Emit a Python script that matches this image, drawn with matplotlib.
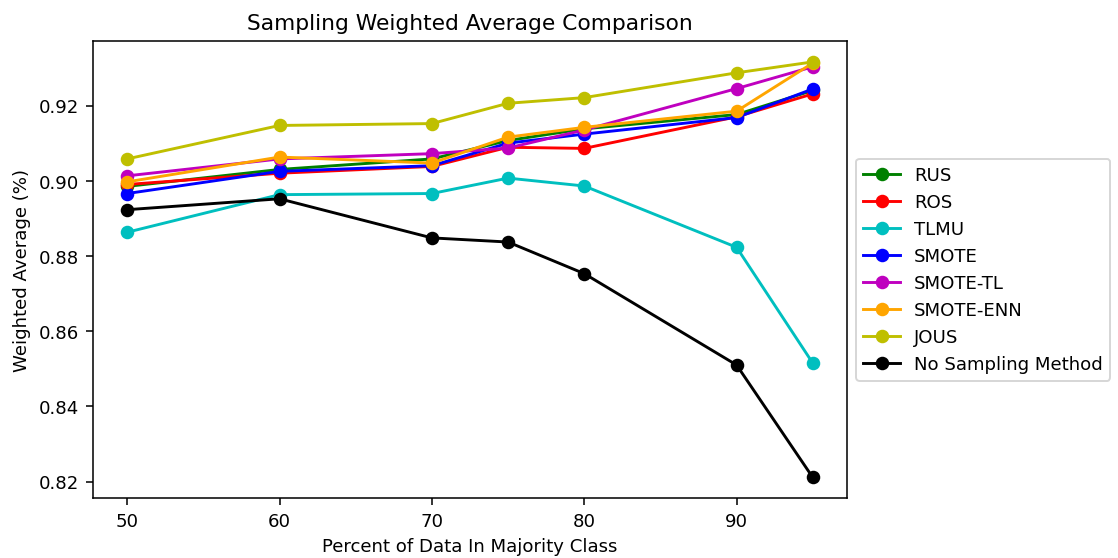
import matplotlib
matplotlib.use('Agg')
import matplotlib.pyplot as plt

# Percent of data in majority class
x = [50, 60, 70, 75, 80, 90, 95]

# Weighted average per sampling method
rus = [0.8985, 0.9030, 0.9058, 0.9107, 0.9138, 0.9176, 0.9240]
ros = [0.8990, 0.9020, 0.9038, 0.9089, 0.9086, 0.9170, 0.9231]
tlmu = [0.8863, 0.8963, 0.8966, 0.9007, 0.8986, 0.8823, 0.8515]
smote = [0.8966, 0.9025, 0.9040, 0.9100, 0.9124, 0.9168, 0.9244]
smote_tl = [0.9013, 0.9058, 0.9072, 0.9087, 0.9135, 0.9245, 0.9303]
smote_enn = [0.8997, 0.9063, 0.9047, 0.9116, 0.9142, 0.9185, 0.9313]
jous = [0.9058, 0.9147, 0.9152, 0.9206, 0.9221, 0.9287, 0.9316]
no_sampling = [0.8923, 0.8952, 0.8848, 0.8837, 0.8753, 0.8510, 0.8211]

plt.rcParams['font.size'] = 9.4

fig = plt.figure(figsize=(8.05, 4.02), dpi=139)
ax = fig.add_axes([0.083, 0.107, 0.674, 0.818])

# Plot each method with markers
ax.plot(x, rus, marker='o', color='g', label='RUS')
ax.plot(x, ros, marker='o', color='r', label='ROS')
ax.plot(x, tlmu, marker='o', color='c', label='TLMU')
ax.plot(x, smote, marker='o', color='b', label='SMOTE')
ax.plot(x, smote_tl, marker='o', color='m', label='SMOTE-TL')
ax.plot(x, smote_enn, marker='o', color='orange', label='SMOTE-ENN')
ax.plot(x, jous, marker='o', color='y', label='JOUS')
ax.plot(x, no_sampling, marker='o', color='k', label='No Sampling Method')

ax.set_title('Sampling Weighted Average Comparison', fontsize=11.3)
ax.set_xlabel('Percent of Data In Majority Class')
ax.set_ylabel('Weighted Average (%)')
ax.legend(loc='center left', bbox_to_anchor=(1, 0.5))

fig.savefig('out.png', dpi=139)
